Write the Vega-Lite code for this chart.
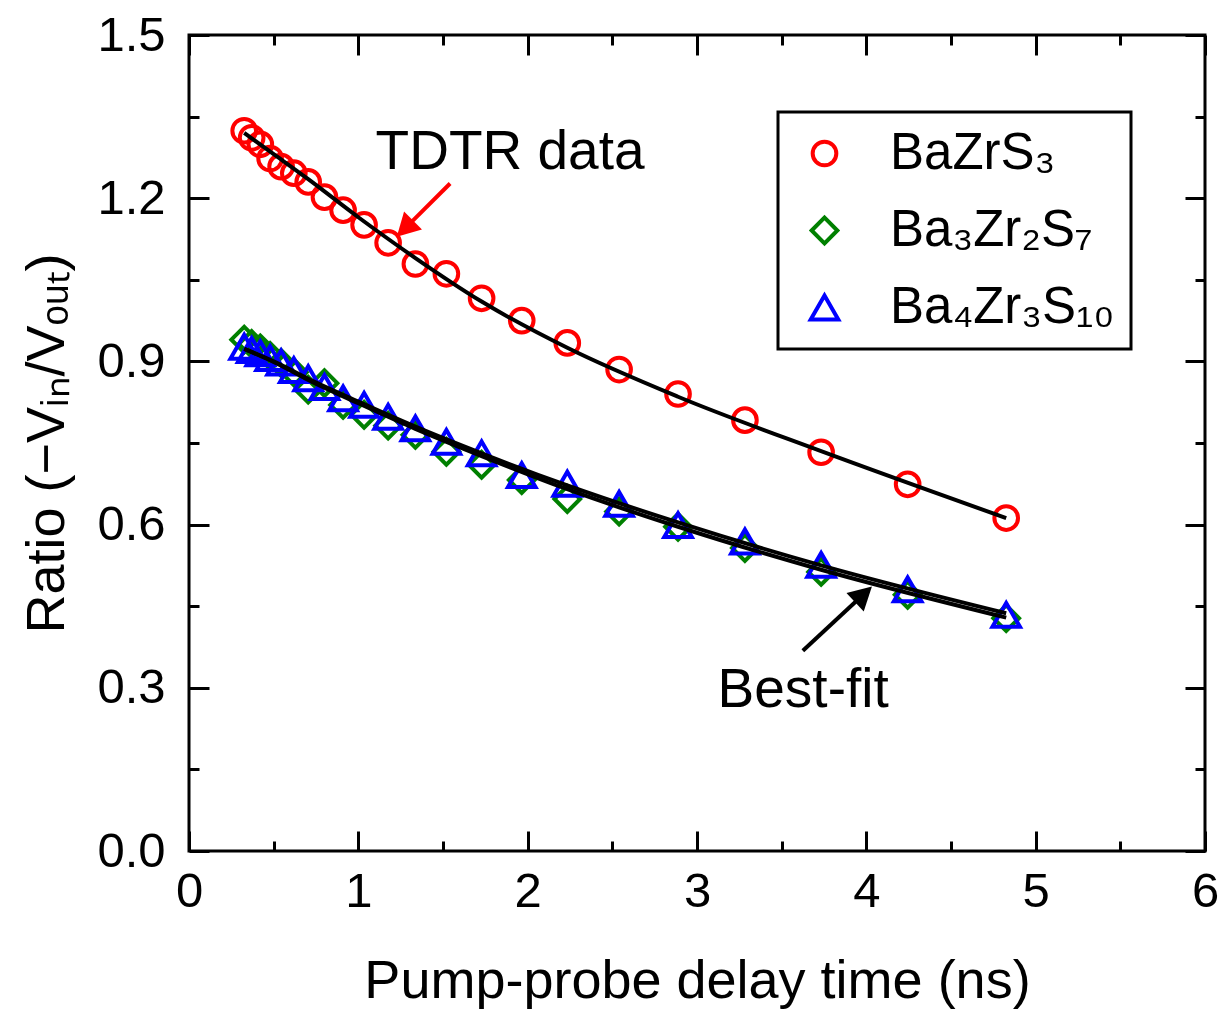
{
  "$schema": "https://vega.github.io/schema/vega-lite/v6.json",
  "autosize": {"type": "none"},
  "padding": {"left": 189, "top": 35, "right": 15, "bottom": 161},
  "width": 1016,
  "height": 816,
  "background": "white",
  "datasets": {
    "points": [
      {"s": "BaZrS₃", "t": 0.326, "r": 1.324}, {"s": "BaZrS₃", "t": 0.370, "r": 1.311}, {"s": "BaZrS₃", "t": 0.421, "r": 1.299}, {"s": "BaZrS₃", "t": 0.479, "r": 1.273}, {"s": "BaZrS₃", "t": 0.544, "r": 1.258}, {"s": "BaZrS₃", "t": 0.619, "r": 1.246}, {"s": "BaZrS₃", "t": 0.704, "r": 1.230}, {"s": "BaZrS₃", "t": 0.800, "r": 1.202}, {"s": "BaZrS₃", "t": 0.910, "r": 1.178}, {"s": "BaZrS₃", "t": 1.034, "r": 1.151}, {"s": "BaZrS₃", "t": 1.176, "r": 1.118}, {"s": "BaZrS₃", "t": 1.337, "r": 1.079}, {"s": "BaZrS₃", "t": 1.520, "r": 1.061}, {"s": "BaZrS₃", "t": 1.728, "r": 1.016}, {"s": "BaZrS₃", "t": 1.965, "r": 0.975}, {"s": "BaZrS₃", "t": 2.234, "r": 0.934}, {"s": "BaZrS₃", "t": 2.540, "r": 0.885}, {"s": "BaZrS₃", "t": 2.888, "r": 0.840}, {"s": "BaZrS₃", "t": 3.283, "r": 0.792}, {"s": "BaZrS₃", "t": 3.733, "r": 0.733}, {"s": "BaZrS₃", "t": 4.244, "r": 0.674}, {"s": "BaZrS₃", "t": 4.826, "r": 0.612},
      {"s": "Ba₃Zr₂S₇", "t": 0.326, "r": 0.940}, {"s": "Ba₃Zr₂S₇", "t": 0.370, "r": 0.932}, {"s": "Ba₃Zr₂S₇", "t": 0.421, "r": 0.924}, {"s": "Ba₃Zr₂S₇", "t": 0.479, "r": 0.910}, {"s": "Ba₃Zr₂S₇", "t": 0.544, "r": 0.897}, {"s": "Ba₃Zr₂S₇", "t": 0.619, "r": 0.880}, {"s": "Ba₃Zr₂S₇", "t": 0.704, "r": 0.848}, {"s": "Ba₃Zr₂S₇", "t": 0.800, "r": 0.860}, {"s": "Ba₃Zr₂S₇", "t": 0.910, "r": 0.820}, {"s": "Ba₃Zr₂S₇", "t": 1.034, "r": 0.802}, {"s": "Ba₃Zr₂S₇", "t": 1.176, "r": 0.782}, {"s": "Ba₃Zr₂S₇", "t": 1.337, "r": 0.765}, {"s": "Ba₃Zr₂S₇", "t": 1.520, "r": 0.734}, {"s": "Ba₃Zr₂S₇", "t": 1.728, "r": 0.710}, {"s": "Ba₃Zr₂S₇", "t": 1.965, "r": 0.682}, {"s": "Ba₃Zr₂S₇", "t": 2.234, "r": 0.647}, {"s": "Ba₃Zr₂S₇", "t": 2.540, "r": 0.624}, {"s": "Ba₃Zr₂S₇", "t": 2.888, "r": 0.596}, {"s": "Ba₃Zr₂S₇", "t": 3.283, "r": 0.557}, {"s": "Ba₃Zr₂S₇", "t": 3.733, "r": 0.513}, {"s": "Ba₃Zr₂S₇", "t": 4.244, "r": 0.471}, {"s": "Ba₃Zr₂S₇", "t": 4.826, "r": 0.428},
      {"s": "Ba₄Zr₃S₁₀", "t": 0.326, "r": 0.927}, {"s": "Ba₄Zr₃S₁₀", "t": 0.370, "r": 0.921}, {"s": "Ba₄Zr₃S₁₀", "t": 0.421, "r": 0.915}, {"s": "Ba₄Zr₃S₁₀", "t": 0.479, "r": 0.906}, {"s": "Ba₄Zr₃S₁₀", "t": 0.544, "r": 0.898}, {"s": "Ba₄Zr₃S₁₀", "t": 0.619, "r": 0.884}, {"s": "Ba₄Zr₃S₁₀", "t": 0.704, "r": 0.869}, {"s": "Ba₄Zr₃S₁₀", "t": 0.800, "r": 0.853}, {"s": "Ba₄Zr₃S₁₀", "t": 0.910, "r": 0.832}, {"s": "Ba₄Zr₃S₁₀", "t": 1.034, "r": 0.820}, {"s": "Ba₄Zr₃S₁₀", "t": 1.176, "r": 0.798}, {"s": "Ba₄Zr₃S₁₀", "t": 1.337, "r": 0.777}, {"s": "Ba₄Zr₃S₁₀", "t": 1.520, "r": 0.752}, {"s": "Ba₄Zr₃S₁₀", "t": 1.728, "r": 0.731}, {"s": "Ba₄Zr₃S₁₀", "t": 1.965, "r": 0.691}, {"s": "Ba₄Zr₃S₁₀", "t": 2.234, "r": 0.675}, {"s": "Ba₄Zr₃S₁₀", "t": 2.540, "r": 0.638}, {"s": "Ba₄Zr₃S₁₀", "t": 2.888, "r": 0.599}, {"s": "Ba₄Zr₃S₁₀", "t": 3.283, "r": 0.569}, {"s": "Ba₄Zr₃S₁₀", "t": 3.733, "r": 0.526}, {"s": "Ba₄Zr₃S₁₀", "t": 4.244, "r": 0.481}, {"s": "Ba₄Zr₃S₁₀", "t": 4.826, "r": 0.434}
    ],
    "fits": [
      {"s": "red", "t": 0.326, "r": 1.320}, {"s": "red", "t": 0.5, "r": 1.281}, {"s": "red", "t": 0.704, "r": 1.235}, {"s": "red", "t": 1.0, "r": 1.165}, {"s": "red", "t": 1.337, "r": 1.090}, {"s": "red", "t": 1.728, "r": 1.010}, {"s": "red", "t": 2.234, "r": 0.925}, {"s": "red", "t": 2.888, "r": 0.835}, {"s": "red", "t": 3.733, "r": 0.735}, {"s": "red", "t": 4.826, "r": 0.612},
      {"s": "green", "t": 0.326, "r": 0.923}, {"s": "green", "t": 0.5, "r": 0.899}, {"s": "green", "t": 0.704, "r": 0.866}, {"s": "green", "t": 1.0, "r": 0.823}, {"s": "green", "t": 1.337, "r": 0.776}, {"s": "green", "t": 1.728, "r": 0.726}, {"s": "green", "t": 2.234, "r": 0.665}, {"s": "green", "t": 2.888, "r": 0.596}, {"s": "green", "t": 3.733, "r": 0.517}, {"s": "green", "t": 4.826, "r": 0.429},
      {"s": "blue", "t": 0.326, "r": 0.923}, {"s": "blue", "t": 0.5, "r": 0.900}, {"s": "blue", "t": 0.704, "r": 0.868}, {"s": "blue", "t": 1.0, "r": 0.826}, {"s": "blue", "t": 1.337, "r": 0.780}, {"s": "blue", "t": 1.728, "r": 0.731}, {"s": "blue", "t": 2.234, "r": 0.672}, {"s": "blue", "t": 2.888, "r": 0.604}, {"s": "blue", "t": 3.733, "r": 0.525}, {"s": "blue", "t": 4.826, "r": 0.437}
    ],
    "arrows": [
      {"a": "TDTR", "t": 1.542, "r": 1.227, "t2": 1.310, "r2": 1.155, "tipT": 1.227, "tipR": 1.129},
      {"a": "fit", "t": 3.625, "r": 0.368, "t2": 3.946, "r2": 0.461, "tipT": 4.033, "tipR": 0.486}
    ],
    "notes": [
      {"t": 1.896, "r": 1.285, "label": "TDTR data"},
      {"t": 3.627, "r": 0.296, "label": "Best-fit"}
    ]
  },
  "layer": [
    {
      "data": {"name": "points"},
      "mark": {"type": "point", "filled": false, "strokeWidth": 4, "opacity": 1},
      "encoding": {
        "x": {
          "field": "t", "type": "quantitative",
          "scale": {"domain": [0, 6], "nice": false, "zero": false},
          "axis": {
            "orient": "bottom",
            "title": "Pump-probe delay time (ns)",
            "values": [0, 0.5, 1, 1.5, 2, 2.5, 3, 3.5, 4, 4.5, 5, 5.5, 6],
            "labelExpr": "datum.value % 1 === 0 ? format(datum.value, 'd') : ''",
            "labelFlush": false,
            "tickSize": {"condition": {"test": "datum.value % 1 === 0", "value": -20}, "value": -10},
            "labelPadding": 36,
            "titlePadding": 38
          }
        },
        "y": {
          "field": "r", "type": "quantitative",
          "scale": {"domain": [0, 1.5], "nice": false, "zero": false},
          "axis": {
            "orient": "left",
            "title": "Ratio (−Vᵢₙ/Vₒᵤₜ)",
            "values": [0, 0.15, 0.3, 0.45, 0.6, 0.75, 0.9, 1.05, 1.2, 1.35, 1.5],
            "labelExpr": "abs(datum.value / 0.3 - round(datum.value / 0.3)) < 0.001 ? format(datum.value, '.1f') : ''",
            "labelFlush": false,
            "tickSize": {"condition": {"test": "abs(datum.value / 0.3 - round(datum.value / 0.3)) < 0.001", "value": -20}, "value": -10},
            "labelPadding": 44,
            "titlePadding": 22
          }
        },
        "color": {
          "field": "s", "type": "nominal",
          "scale": {"domain": ["BaZrS₃", "Ba₃Zr₂S₇", "Ba₄Zr₃S₁₀"], "range": ["#ff0000", "#008000", "#0000ff"]},
          "legend": {
            "title": null, "orient": "none", "legendX": 589, "legendY": 77,
            "strokeColor": "black", "padding": 16,
            "labelFontSize": 51, "labelFont": "Liberation Sans", "labelColor": "black",
            "symbolStrokeWidth": 4, "rowPadding": 25,
            "labelOffset": 40, "symbolOffset": 5, "labelLimit": 400
          }
        },
        "shape": {
          "field": "s", "type": "nominal",
          "scale": {"domain": ["BaZrS₃", "Ba₃Zr₂S₇", "Ba₄Zr₃S₁₀"], "range": ["circle", "diamond", "triangle-up"]}
        },
        "size": {
          "field": "s", "type": "nominal",
          "scale": {"domain": ["BaZrS₃", "Ba₃Zr₂S₇", "Ba₄Zr₃S₁₀"], "range": [560, 760, 800]}
        }
      }
    },
    {
      "data": {"name": "fits"},
      "mark": {"type": "line", "color": "black", "strokeWidth": 4, "interpolate": "monotone"},
      "encoding": {
        "x": {
          "field": "t", "type": "quantitative",
          "axis": {
            "orient": "top", "title": null, "labels": false,
            "values": [0, 0.5, 1, 1.5, 2, 2.5, 3, 3.5, 4, 4.5, 5, 5.5, 6],
            "tickSize": {"condition": {"test": "datum.value % 1 === 0", "value": -20}, "value": -10}
          }
        },
        "y": {
          "field": "r", "type": "quantitative",
          "axis": {
            "orient": "right", "title": null, "labels": false,
            "values": [0, 0.15, 0.3, 0.45, 0.6, 0.75, 0.9, 1.05, 1.2, 1.35, 1.5],
            "tickSize": {"condition": {"test": "abs(datum.value / 0.3 - round(datum.value / 0.3)) < 0.001", "value": -20}, "value": -10}
          }
        },
        "detail": {"field": "s", "type": "nominal"}
      }
    },
    {
      "data": {"name": "arrows"},
      "transform": [{"filter": "datum.a === 'TDTR'"}],
      "mark": {"type": "rule", "color": "#ff0000", "strokeWidth": 4},
      "encoding": {
        "x": {"field": "t", "type": "quantitative", "axis": null},
        "y": {"field": "r", "type": "quantitative", "axis": null},
        "x2": {"field": "t2"},
        "y2": {"field": "r2"}
      }
    },
    {
      "data": {"name": "arrows"},
      "transform": [{"filter": "datum.a === 'TDTR'"}],
      "mark": {"type": "point", "shape": "M0,0L0.55,1L-0.55,1Z", "filled": true, "color": "#ff0000", "opacity": 1, "angle": 225, "size": 2116, "strokeWidth": 0},
      "encoding": {
        "x": {"field": "tipT", "type": "quantitative", "axis": null},
        "y": {"field": "tipR", "type": "quantitative", "axis": null}
      }
    },
    {
      "data": {"name": "arrows"},
      "transform": [{"filter": "datum.a === 'fit'"}],
      "mark": {"type": "rule", "color": "black", "strokeWidth": 4},
      "encoding": {
        "x": {"field": "t", "type": "quantitative", "axis": null},
        "y": {"field": "r", "type": "quantitative", "axis": null},
        "x2": {"field": "t2"},
        "y2": {"field": "r2"}
      }
    },
    {
      "data": {"name": "arrows"},
      "transform": [{"filter": "datum.a === 'fit'"}],
      "mark": {"type": "point", "shape": "M0,0L0.55,1L-0.55,1Z", "filled": true, "color": "black", "opacity": 1, "angle": 47, "size": 2116, "strokeWidth": 0},
      "encoding": {
        "x": {"field": "tipT", "type": "quantitative", "axis": null},
        "y": {"field": "tipR", "type": "quantitative", "axis": null}
      }
    },
    {
      "data": {"name": "notes"},
      "mark": {"type": "text", "font": "Liberation Sans", "fontSize": 55, "color": "black", "align": "center", "baseline": "middle"},
      "encoding": {
        "x": {"field": "t", "type": "quantitative", "axis": null},
        "y": {"field": "r", "type": "quantitative", "axis": null},
        "text": {"field": "label"}
      }
    }
  ],
  "resolve": {"axis": {"x": "independent", "y": "independent"}},
  "config": {
    "view": {"stroke": "black", "strokeWidth": 3},
    "legend": {"strokeWidth": 3},
    "axis": {
      "domain": false, "grid": false,
      "tickColor": "black", "tickWidth": 3,
      "labelFont": "Liberation Sans", "labelFontSize": 49, "labelColor": "black",
      "titleFont": "Liberation Sans", "titleFontSize": 54, "titleFontWeight": "normal", "titleColor": "black"
    }
  }
}
